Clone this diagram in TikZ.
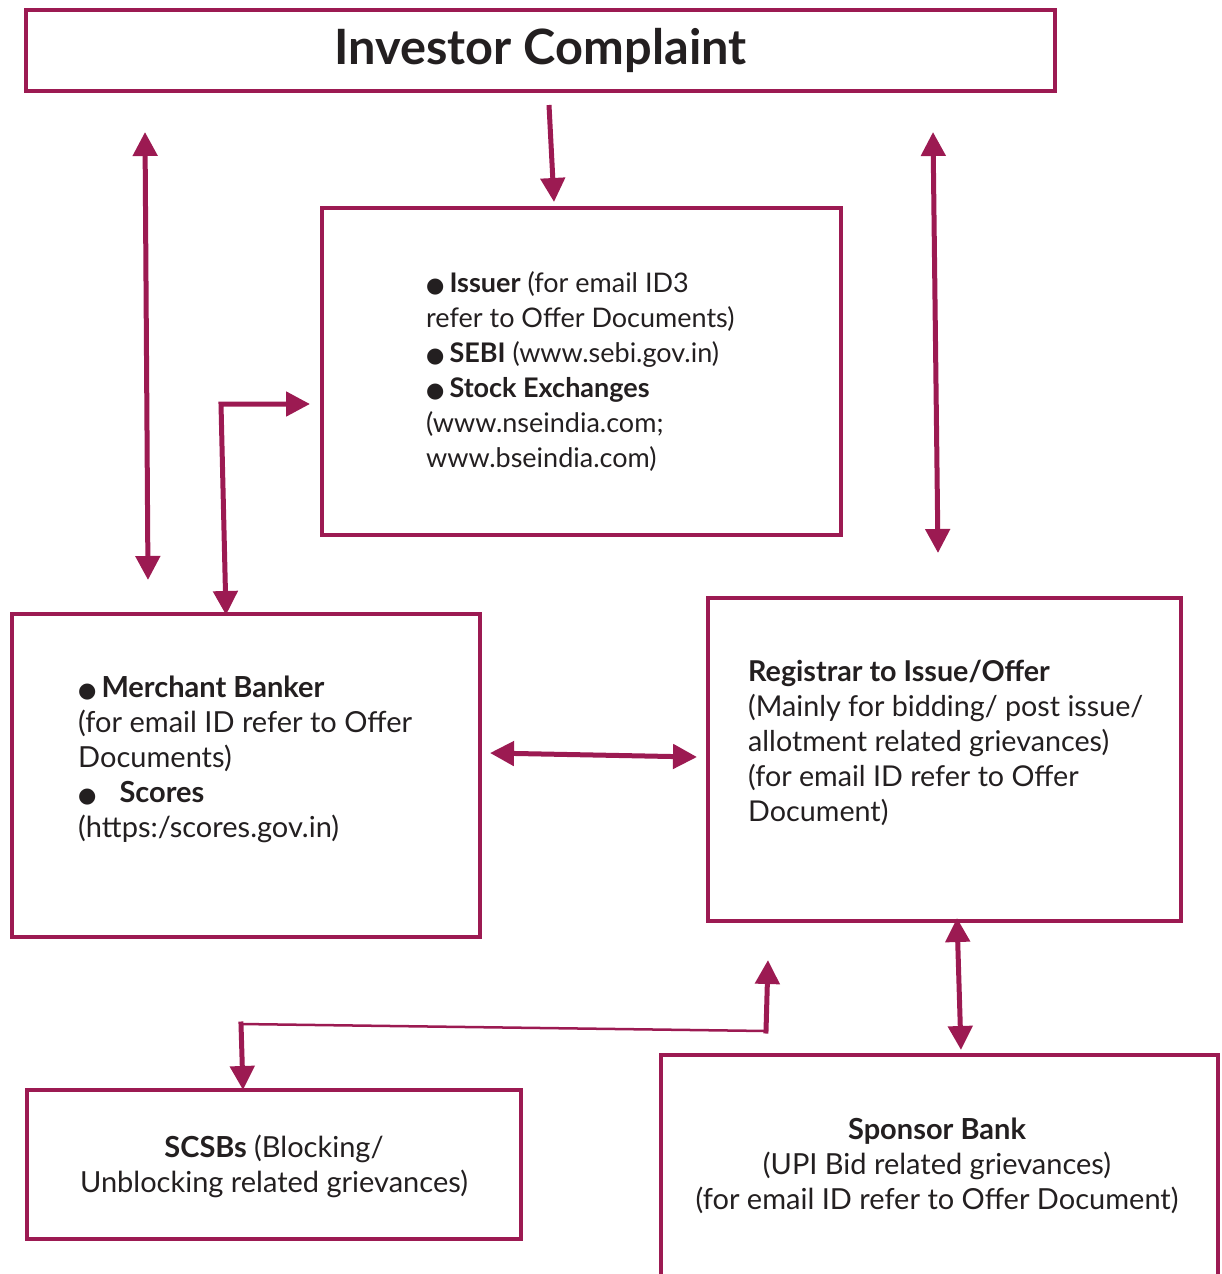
\documentclass[tikz,border=0pt]{standalone}
\usepackage{fontspec}
\setmainfont{Lato}
\newfontfamily\symfont{DejaVu Sans}
\usetikzlibrary{arrows.meta}
\definecolor{plum}{HTML}{9C1A52}
\definecolor{ink}{HTML}{231F20}
\newcommand{\blt}{{\symfont\fontsize{21}{21}\selectfont ●}\hspace{5pt}}
\begin{document}
\begin{tikzpicture}[x=1pt,y=-1pt,
  box/.style={draw=plum, line width=4pt, inner sep=0pt},
  frame/.style={inner sep=0pt},
  tip/.tip={Triangle[width=24pt,length=24pt]},
  conn/.style={draw=plum, line width=5pt, -tip},
  dconn/.style={draw=plum, line width=5pt, tip-tip, line join=miter},
  txt/.style={font=\fontsize{29}{35}\selectfont, align=left, inner sep=0pt, text=ink},
  ctxt/.style={font=\fontsize{29}{35}\selectfont, align=center, inner sep=0pt, text=ink}]
\useasboundingbox (0,0) rectangle (1222,1274);

% boxes
\node[box, minimum width=1029pt, minimum height=81pt] (title) at (540.5,50.5) {};
\node[font=\bfseries\fontsize{48.7}{58}\selectfont, text=ink, inner sep=0pt] (titletext) at (540.5,50) {Investor Complaint};

\node[box, minimum width=519pt, minimum height=327pt] (center) at (581.5,371.5) {};
\node[txt, font=\fontsize{27}{35}\selectfont, anchor=west] (centertext) at (426,372) {\blt\textbf{Issuer} (for email ID3\\refer to Offer Documents)\\\blt\textbf{SEBI} (www.sebi.gov.in)\\\blt\textbf{Stock Exchanges}\\(www.nseindia.com;\\www.bseindia.com)};

\node[box, minimum width=468pt, minimum height=323pt] (merchant) at (246,775.5) {};
\node[txt, anchor=west] (merchanttext) at (78,759) {\blt\textbf{Merchant Banker}\\(for email ID refer to Offer\\Documents)\\\blt\hspace{18pt}\textbf{Scores}\\(https:/scores.gov.in)};

\node[box, minimum width=473pt, minimum height=323pt] (registrar) at (944.5,759.5) {};
\node[txt, font=\fontsize{28.7}{35}\selectfont, anchor=west] (registrartext) at (748,743) {\textbf{Registrar to Issue/Offer}\\(Mainly for bidding/ post issue/\\allotment related grievances)\\(for email ID refer to Offer\\Document)};

\node[box, minimum width=494pt, minimum height=149pt] (scsb) at (274,1164.5) {};
\node[ctxt] (scsbtext) at (274,1166) {\textbf{SCSBs} (Blocking/\\Unblocking related grievances)};

\node[frame, minimum width=557pt, minimum height=219pt] (sponsor) at (939.5,1164.5) {};
\draw[plum, line width=4pt] (sponsor.south west) -- (sponsor.north west) -- (sponsor.north east) -- (sponsor.south east);
\node[ctxt] (sponsortext) at (937,1166) {\textbf{Sponsor Bank}\\(UPI Bid related grievances)\\(for email ID refer to Offer Document)};

% connector end points
\coordinate (l1) at (145,132);
\coordinate (l2) at (148,580);
\coordinate (d1) at (549,105);
\coordinate (d2) at (554,202);
\coordinate (r1) at (933,132);
\coordinate (r2) at (938,553);
\coordinate (e1) at (226,615);
\coordinate (e2) at (221,404);
\coordinate (e3) at (310,404);
\coordinate (h1) at (490,753);
\coordinate (h2) at (697,757);
\coordinate (v1) at (957,918);
\coordinate (v2) at (961,1050);
\coordinate (s1) at (243,1090);
\coordinate (s2) at (241,1024);
\coordinate (s3) at (766,1031);
\coordinate (s4) at (768,960);

% connectors
\draw[dconn] (l1) -- (l2);
\draw[conn] (d1) -- (d2);
\draw[dconn] (r1) -- (r2);
\draw[dconn] (e1) -- (e2) -- (e3);
\draw[dconn] (h1) -- (h2);
\draw[dconn] (v1) -- (v2);
\draw[plum, line width=2.5pt] (s2) -- (s3);
\draw[conn, line cap=rect] (s2) -- (s1);
\draw[conn, line cap=rect] (s3) -- (s4);
\end{tikzpicture}
\end{document}
